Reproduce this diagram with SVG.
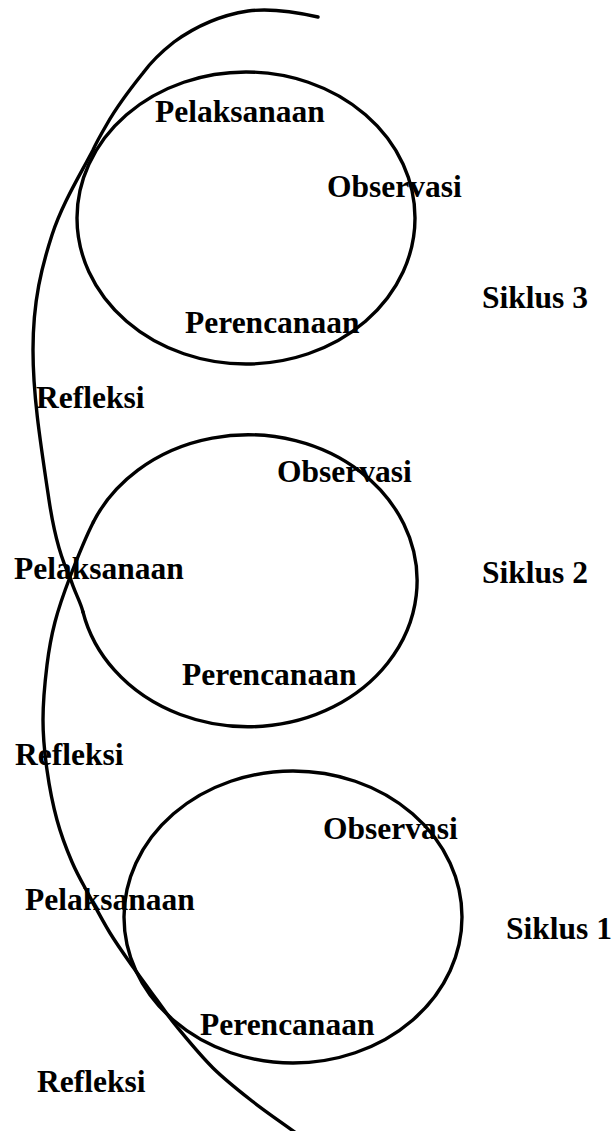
<svg xmlns="http://www.w3.org/2000/svg" width="616" height="1131" viewBox="0 0 616 1131">
  <style>
    .ln { fill: none; stroke: #000; stroke-width: 3.4; stroke-linecap: round; }
    .lb { font-family: "Liberation Serif", "Times New Roman", serif; font-weight: bold; font-size: 31.5px; fill: #000; }
  </style>
  <rect x="0" y="0" width="616" height="1131" fill="#fff"/>

  <g id="cycle3">
    <ellipse class="ln" cx="246" cy="218" rx="169" ry="146"/>
    <text class="lb" x="155" y="122">Pelaksanaan</text>
    <text class="lb" x="327" y="197">Observasi</text>
    <text class="lb" x="185" y="333">Perencanaan</text>
    <text class="lb" x="482" y="308">Siklus 3</text>
  </g>

  <g id="cycle2">
    <path class="ln" d="M83,612 A169,146 0 1 0 93.4,522"/>
    <text class="lb" x="277" y="482">Observasi</text>
    <text class="lb" x="14" y="579">Pelaksanaan</text>
    <text class="lb" x="182" y="685">Perencanaan</text>
    <text class="lb" x="482" y="583">Siklus 2</text>
  </g>

  <g id="cycle1">
    <ellipse class="ln" cx="293" cy="917" rx="169" ry="146"/>
    <text class="lb" x="323" y="839">Observasi</text>
    <text class="lb" x="25" y="910">Pelaksanaan</text>
    <text class="lb" x="200" y="1035">Perencanaan</text>
    <text class="lb" x="506" y="939">Siklus 1</text>
  </g>

  <g id="refleksi-labels">
    <text class="lb" x="36" y="408">Refleksi</text>
    <text class="lb" x="15" y="765">Refleksi</text>
    <text class="lb" x="37" y="1092">Refleksi</text>
  </g>

  <g id="connectors">
    <path class="ln" d="M318,17 C296,12 270,8 248,11 C222,15 196,26 174,42 C160,53 151,62 143,73 C131,88 116,108 107,124 C100,136 96,143 93,150 C80,175 62,204 52,235 C42,266 33,300 33,350 C33,395 40,440 49,500 C55,540 64,565 70,577 C74.2,592 80,600 83,612"/>
    <path class="ln" d="M93.4,522 C84.4,539.8 76.4,560.33 70,577 C63.6,593.67 58.83,607.33 55,622 C51.17,636.67 49,648.67 47,665 C45,681.33 43,702.5 43,720 C43,737.5 44.67,753.33 47,770 C49.33,786.67 52.83,804.67 57,820 C61.17,835.33 66.5,849.17 72,862 C77.5,874.83 83.67,885.17 90,897 C96.33,908.83 102.83,921.33 110,933 C117.17,944.67 125.17,955.83 133,967 C140.83,978.17 149.67,990 157,1000 C164.33,1010 167.67,1015.67 177,1027 C186.33,1038.33 200.5,1055.67 213,1068 C225.5,1080.33 238.17,1090.17 252,1101 C265.83,1111.83 281.33,1122.33 296,1133"/>
  </g>
</svg>
